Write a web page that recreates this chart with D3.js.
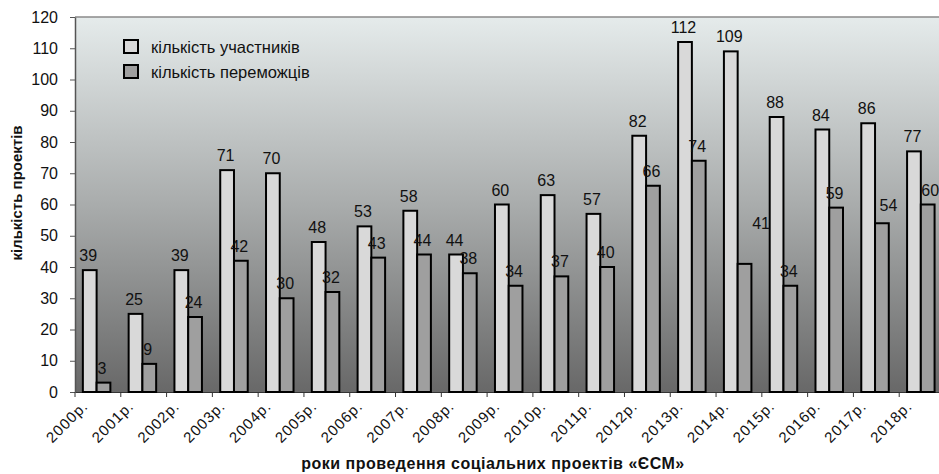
<!DOCTYPE html>
<html>
<head>
<meta charset="utf-8">
<script src="https://cdn.jsdelivr.net/npm/d3@7"></script>
<style>
  html, body { margin: 0; padding: 0; background: #fff; }
  svg { display: block; font-family: "Liberation Sans", Arial, sans-serif; }
</style>
</head>
<body>
<svg id="chart" width="939" height="474"></svg>
<script>
const years = ["2000р.","2001р.","2002р.","2003р.","2004р.","2005р.","2006р.","2007р.","2008р.","2009р.",
               "2010р.","2011р.","2012р.","2013р.","2014р.","2015р.","2016р.","2017р.","2018р."];
const participants = [39,25,39,71,70,48,53,58,44,60,63,57,82,112,109,88,84,86,77];
const winners      = [3,9,24,42,30,32,43,44,38,34,37,40,66,74,41,34,59,54,60];
const yTicks = [0,10,20,30,40,50,60,70,80,90,100,110,120];
const seriesNames = ["кількість участників", "кількість переможців"];
const xTitle = "роки проведення соціальних проектів «ЄСМ»";
const yTitle = "кількість проектів";

(function () {
const colors = ["#d9d9d9", "#9f9f9f"];
// label nudges (style only) reproducing displaced labels of the original
const labelNudge = { "1-14": [18, -26], "1-17": [8, -3], "1-18": [4, 0] };

const svg = d3.select("#chart");
const pLeft = 75, pRight = 945, pTop = 17, pBottom = 392;

const x = d3.scaleBand().domain(years).range([pLeft, pRight]).paddingInner(0).paddingOuter(0);
const x1 = d3.scaleBand().domain([0, 1]).range([0, x.bandwidth()]).paddingInner(0).paddingOuter(0.665).align(0.43);
const y = d3.scaleLinear().domain([0, 120]).range([pBottom, pTop]);

const defs = svg.append("defs");
const grad = defs.append("linearGradient").attr("id", "bg").attr("x1", 0).attr("y1", 0).attr("x2", 0).attr("y2", 1);
grad.append("stop").attr("offset", "0%").attr("stop-color", "#e5ebeb");
grad.append("stop").attr("offset", "50%").attr("stop-color", "#a9acac");
grad.append("stop").attr("offset", "100%").attr("stop-color", "#686868");

svg.append("rect").attr("x", pLeft).attr("y", pTop).attr("width", pRight - pLeft).attr("height", pBottom - pTop)
  .attr("fill", "url(#bg)");
svg.append("line").attr("x1", pLeft).attr("x2", pRight).attr("y1", pTop).attr("y2", pTop)
  .attr("stroke", "#8a8a8a").attr("stroke-width", 1.5);

// y axis
const yAxis = svg.append("g").attr("transform", `translate(${pLeft},0)`)
  .call(d3.axisLeft(y).tickValues(yTicks).tickSize(5).tickPadding(12).tickSizeOuter(0));
yAxis.select(".domain").attr("stroke", "#555").attr("stroke-width", 1.5);
yAxis.selectAll(".tick line").attr("stroke", "#555");
yAxis.selectAll("text").attr("font-size", 16).attr("fill", "#111")
  .attr("font-family", "Liberation Sans, Arial, sans-serif");

// x axis
const xAxis = svg.append("g").attr("transform", `translate(0,${pBottom})`)
  .call(d3.axisBottom(x).tickSize(0).tickFormat(""));
xAxis.select(".domain").attr("stroke", "#333").attr("stroke-width", 1);
svg.append("g").selectAll("line").data(years).join("line")
  .attr("x1", d => x(d)).attr("x2", d => x(d))
  .attr("y1", pBottom).attr("y2", pBottom + 5)
  .attr("stroke", "#333");
svg.append("g").selectAll("text").data(years).join("text")
  .attr("transform", d => `translate(${x(d) + x.bandwidth() / 2 - 9},${pBottom + 15}) rotate(-45)`)
  .attr("text-anchor", "end")
  .attr("font-size", 15)
  .attr("letter-spacing", 1)
  .attr("fill", "#111")
  .text(d => d);

// bars
const series = [participants, winners];
series.forEach((vals, si) => {
  const g = svg.append("g");
  g.selectAll("rect").data(vals).join("rect")
    .attr("x", (d, i) => x(years[i]) + x1(si))
    .attr("y", d => y(d))
    .attr("width", x1.bandwidth())
    .attr("height", d => y(0) - y(d))
    .attr("fill", colors[si])
    .attr("stroke", "#000")
    .attr("stroke-width", 2);
  g.selectAll("text").data(vals).join("text")
    .attr("x", (d, i) => x(years[i]) + x1(si) + x1.bandwidth() / 2 - 1.5 + ((labelNudge[si + "-" + i] || [0, 0])[0]))
    .attr("y", (d, i) => y(d) - 9 + ((labelNudge[si + "-" + i] || [0, 0])[1]))
    .attr("text-anchor", "middle")
    .attr("font-size", 16)
    .attr("fill", "#111")
    .text(d => d);
});

// legend
const legend = svg.append("g");
seriesNames.forEach((name, i) => {
  legend.append("rect").attr("x", 124).attr("y", 40 + i * 25).attr("width", 14).attr("height", 13)
    .attr("fill", colors[i]).attr("stroke", "#000").attr("stroke-width", 2);
  legend.append("text").attr("x", 151).attr("y", 53 + i * 25)
    .attr("font-size", 16.5).attr("fill", "#111").text(name);
});

// axis titles
svg.append("text").attr("x", 493).attr("y", 469).attr("text-anchor", "middle")
  .attr("font-size", 16).attr("font-weight", "bold").attr("letter-spacing", 0.5)
  .attr("fill", "#111").text(xTitle);
svg.append("text").attr("transform", `translate(22,193) rotate(-90)`)
  .attr("text-anchor", "middle").attr("font-size", 15).attr("font-weight", "bold")
  .attr("fill", "#111").text(yTitle);
})();
</script>
</body>
</html>
